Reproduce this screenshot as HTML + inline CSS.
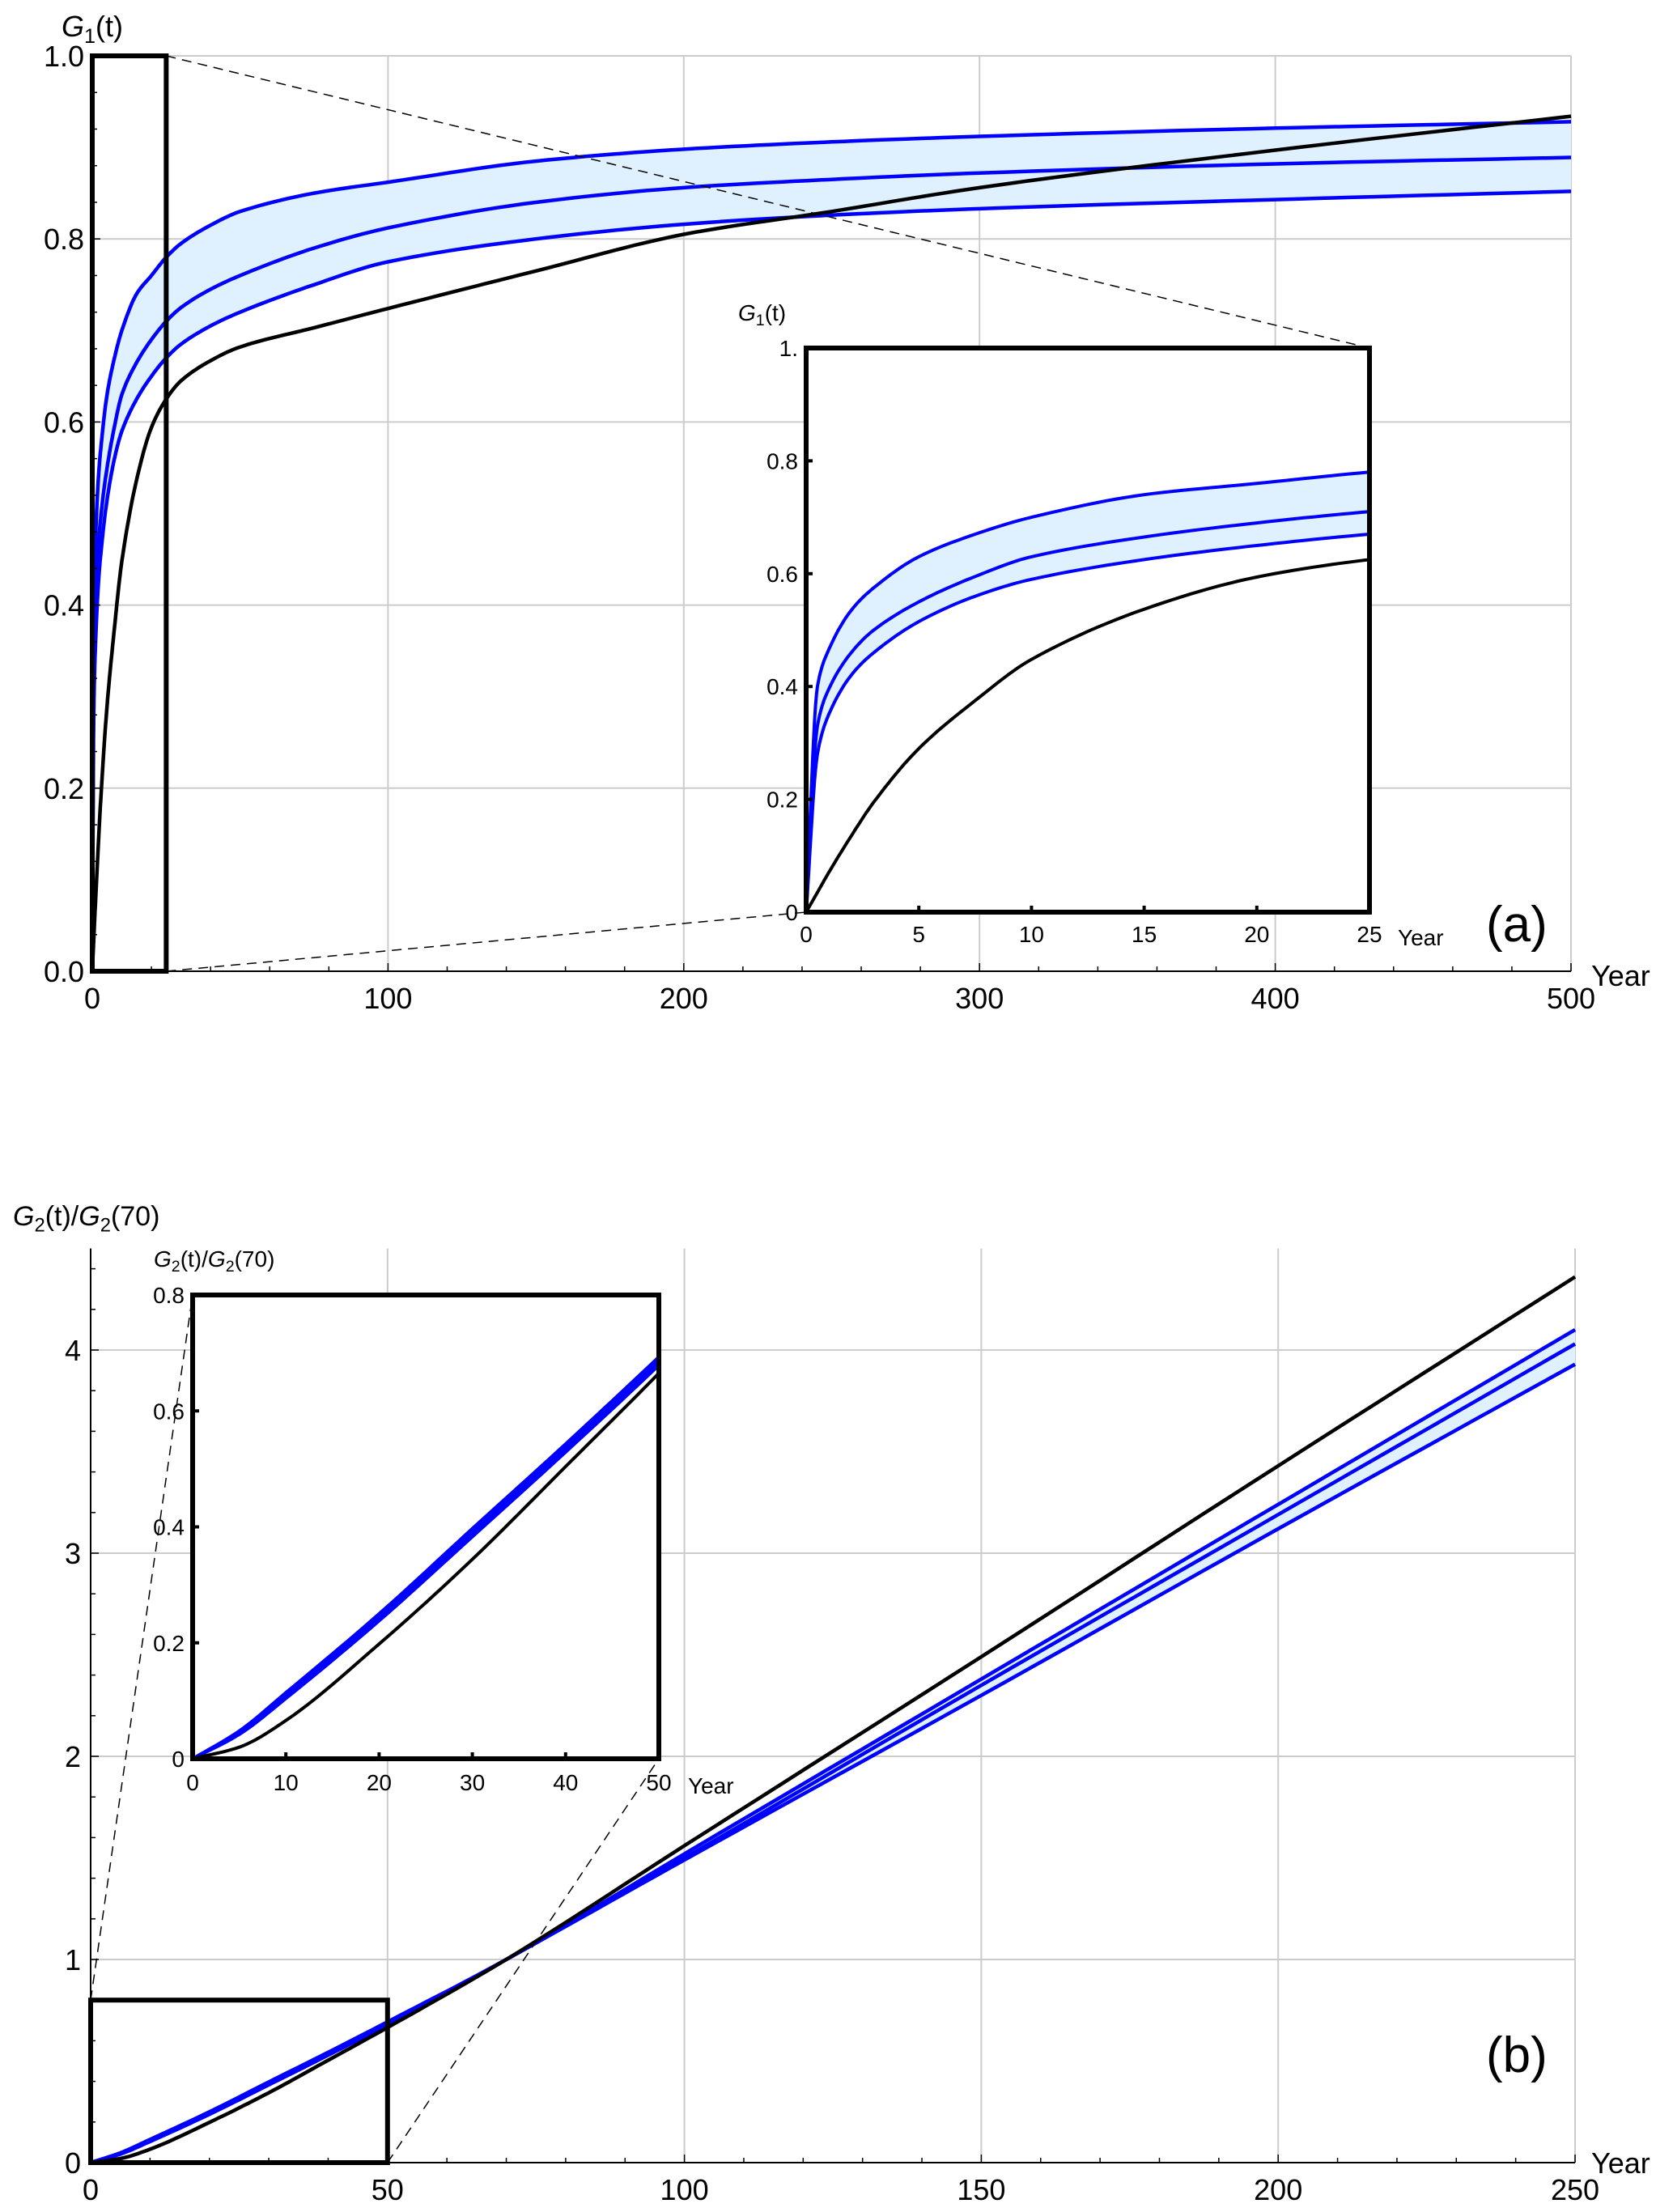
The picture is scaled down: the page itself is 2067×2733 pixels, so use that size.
<!DOCTYPE html>
<html><head><meta charset="utf-8"><style>
html,body{margin:0;padding:0;background:#fff;}
svg{display:block;font-family:"Liberation Sans",Arial,sans-serif;}
</style></head><body>
<svg id="chart" width="2067" height="2733" viewBox="0 0 2067 2733" xmlns="http://www.w3.org/2000/svg">
<defs>
<clipPath id="clipA"><rect x="996" y="430" width="696" height="697"/></clipPath>
<clipPath id="clipB"><rect x="238" y="1600" width="576" height="573"/></clipPath>
</defs>
<g id="root"></g>
</svg>
<script>
// ---- Panel (a) data ----
const tTop=[0,0.5,1,2,3,5,7.5,10,15,20,25,30,40,50,75,100,150,200,250,300,400,500];
const g1Upper=[0,.40,.465,.535,.575,.63,.67,.70,.74,.76,.78,.795,.815,.83,.85,.862,.885,.898,.906,.912,.921,.928];
const g1Mid=[0,.33,.395,.46,.50,.55,.595,.63,.665,.69,.71,.725,.745,.76,.79,.812,.84,.856,.865,.872,.882,.889];
const g1Lower=[0,.28,.35,.42,.46,.515,.56,.59,.625,.65,.67,.685,.705,.72,.75,.775,.80,.816,.826,.833,.843,.852];
const g1Black=[0,.035,.07,.135,.195,.29,.375,.448,.537,.594,.625,.645,.667,.682,.703,.724,.765,.805,.83,.856,.897,.934];
const aXTicks=[0,100,200,300,400,500];
const aYTicks=[0,0.2,0.4,0.6,0.8,1.0];
const aYLabels=["0.0","0.2","0.4","0.6","0.8","1.0"];
const aInXTicks=[0,5,10,15,20,25];
const aInYTicks=[0,0.2,0.4,0.6,0.8,1];
const aInYLabels=["0","0.2","0.4","0.6","0.8","1."];
// ---- Panel (b) data ----
const tBot=[0,5,10,20,30,40,50,70,100,150,200,250];
const g2Upper=[0,.048,.114,.25,.397,.543,.693,1.0,1.52,2.38,3.24,4.10];
const g2Mid=[0,.045,.109,.244,.39,.536,.686,1.0,1.50,2.35,3.19,4.03];
const g2Lower=[0,.042,.104,.238,.383,.529,.679,1.0,1.49,2.30,3.12,3.93];
const g2Black=[0,.02,.066,.198,.344,.504,.665,1.0,1.56,2.49,3.43,4.36];
const bXTicks=[0,50,100,150,200,250];
const bYTicks=[0,1,2,3,4];
const bInXTicks=[0,10,20,30,40,50];
const bInYTicks=[0,0.2,0.4,0.6,0.8];
const bInYLabels=["0","0.2","0.4","0.6","0.8"];

const NS="http://www.w3.org/2000/svg";
const root=document.getElementById('root');
function mk(tag,attrs,parent){const e=document.createElementNS(NS,tag);for(const k in attrs)e.setAttribute(k,attrs[k]);(parent||root).appendChild(e);return e;}
function lin(d0,d1,r0,r1){return v=>r0+(v-d0)*(r1-r0)/(d1-d0);}
function smooth(ts,vs){
  const n=ts.length,d=[],m=new Array(n);
  for(let i=0;i<n-1;i++)d.push((vs[i+1]-vs[i])/(ts[i+1]-ts[i]));
  m[0]=d[0];m[n-1]=d[n-2];
  for(let i=1;i<n-1;i++){m[i]=(d[i-1]*d[i]<=0)?0:2/(1/d[i-1]+1/d[i]);}
  const out=[];
  for(let i=0;i<n-1;i++){const h=ts[i+1]-ts[i];const N=12;for(let k=0;k<N;k++){const u=k/N,u2=u*u,u3=u2*u;
    const v=(2*u3-3*u2+1)*vs[i]+(u3-2*u2+u)*h*m[i]+(-2*u3+3*u2)*vs[i+1]+(u3-u2)*h*m[i+1];out.push([ts[i]+u*h,v]);}}
  out.push([ts[n-1],vs[n-1]]);return out;}
function pathOf(ts,vs,sx,sy){return smooth(ts,vs).map((p,i)=>(i?'L':'M')+sx(p[0]).toFixed(1)+','+sy(p[1]).toFixed(1)).join(' ');}
function bandOf(ts,up,lo,sx,sy){let d=pathOf(ts,up,sx,sy);const l=smooth(ts,lo);for(let i=l.length-1;i>=0;i--)d+=' L'+sx(l[i][0]).toFixed(1)+','+sy(l[i][1]).toFixed(1);return d+' Z';}
function txt(s,x,y,size,anchor,parent){const e=mk('text',{x:x,y:y,'font-size':size,'text-anchor':anchor||'start',fill:'#000'},parent);e.textContent=s;return e;}
function label(parent,x,y,size,parts){const e=mk('text',{x:x,y:y,'font-size':size,fill:'#000'},parent);
  parts.forEach(p=>{const s=document.createElementNS(NS,'tspan');if(p.i)s.setAttribute('font-style','italic');if(p.sub){s.setAttribute('font-size',size*0.7);s.setAttribute('dy',size*0.22);}if(p.up){s.setAttribute('dy',-size*0.22);}s.textContent=p.t;e.appendChild(s);});return e;}
function series(g,ts,up,mid,lo,blk,sx,sy,w){
  const band=mk('path',{d:bandOf(ts,up,lo,sx,sy),fill:'#dff0ff',stroke:'none'},g);
  
  
  const names=['upper-curve','middle-curve','lower-curve'];
  [up,mid,lo].forEach((v,i)=>{const p=mk('path',{d:pathOf(ts,v,sx,sy),fill:'none',stroke:'#0000ff','stroke-width':w,'stroke-linejoin':'round'},g);
    
    });
  const b=mk('path',{d:pathOf(ts,blk,sx,sy),fill:'none',stroke:'#000','stroke-width':w,'stroke-linejoin':'round'},g);
  
  
}

// ================= Panel (a) =================
const ga=mk('g',{});


const ax=lin(0,500,114,1941), ay=lin(0,1,1200,69);
aXTicks.forEach(v=>{if(v>0)mk('line',{x1:ax(v),x2:ax(v),y1:ay(0),y2:ay(1),stroke:'#cccccc','stroke-width':2},ga);});
aYTicks.forEach(v=>{if(v>0)mk('line',{x1:ax(0),x2:ax(500),y1:ay(v),y2:ay(v),stroke:'#cccccc','stroke-width':2},ga);});
series(ga,tTop,g1Upper,g1Mid,g1Lower,g1Black,ax,ay,4.5);
mk('line',{x1:ax(0),x2:ax(500),y1:ay(0),y2:ay(0),stroke:'#000','stroke-width':2},ga);
mk('line',{x1:ax(0),x2:ax(0),y1:ay(0),y2:ay(1),stroke:'#000','stroke-width':2},ga);
for(let v=0;v<=500;v+=20){const maj=v%100===0;mk('line',{x1:ax(v),x2:ax(v),y1:ay(0),y2:ay(0)-(maj?10:6),stroke:'#000','stroke-width':1.5},ga);}
for(let k=0;k<=25;k++){const v=k*0.04;const maj=k%5===0;mk('line',{x1:ax(0),x2:ax(0)+(maj?10:6),y1:ay(v),y2:ay(v),stroke:'#000','stroke-width':1.5},ga);}
aXTicks.forEach(v=>txt(String(v),ax(v),1246,36,'middle',ga));
aYTicks.forEach((v,i)=>txt(aYLabels[i],104,ay(v)+13,36,'end',ga));
label(ga,76,45,36,[{t:'G',i:1},{t:'1',sub:1},{t:'(t)',up:1}]);
txt('Year',1966,1218,36,'start',ga);
txt('(a)',1836,1163,62,'start',ga);
mk('rect',{x:ax(0),y:ay(1),width:ax(25)-ax(0),height:ay(0)-ay(1),fill:'none',stroke:'#000','stroke-width':6},ga);
mk('line',{x1:ax(25),y1:ay(1),x2:1692,y2:430,stroke:'#000','stroke-width':1.5,'stroke-dasharray':'12,8'},ga);
mk('line',{x1:ax(25),y1:ay(0),x2:996,y2:1127,stroke:'#000','stroke-width':1.5,'stroke-dasharray':'12,8'},ga);
const gai=mk('g',{},ga);


const ix=lin(0,25,996,1692), iy=lin(0,1,1127,430);
mk('rect',{x:996,y:430,width:696,height:697,fill:'#fff'},gai);
const gaic=mk('g',{'clip-path':'url(#clipA)'},gai);
series(gaic,tTop.slice(0,12),g1Upper.slice(0,12),g1Mid.slice(0,12),g1Lower.slice(0,12),g1Black.slice(0,12),ix,iy,4);
mk('rect',{x:996,y:430,width:696,height:697,fill:'none',stroke:'#000','stroke-width':6},gai);
aInXTicks.forEach(v=>{mk('line',{x1:ix(v),x2:ix(v),y1:1127,y2:1119,stroke:'#000','stroke-width':4},gai);txt(String(v),ix(v),1164,28,'middle',gai);});
aInYTicks.forEach((v,i)=>{mk('line',{x1:996,x2:1004,y1:iy(v),y2:iy(v),stroke:'#000','stroke-width':4},gai);txt(aInYLabels[i],986,iy(v)+10,28,'end',gai);});
txt('Year',1727,1168,28,'start',gai);
label(gai,912,396,28,[{t:'G',i:1},{t:'1',sub:1},{t:'(t)',up:1}]);

// ================= Panel (b) =================
const gb=mk('g',{});


const bx=lin(0,250,112,1946), by=lin(0,1,2672,2421);
const bTop=by(4.5);
bXTicks.forEach(v=>{if(v>0)mk('line',{x1:bx(v),x2:bx(v),y1:by(0),y2:bTop,stroke:'#cccccc','stroke-width':2},gb);});
bYTicks.forEach(v=>{if(v>0)mk('line',{x1:bx(0),x2:bx(250),y1:by(v),y2:by(v),stroke:'#cccccc','stroke-width':2},gb);});
series(gb,tBot,g2Upper,g2Mid,g2Lower,g2Black,bx,by,4.5);
mk('line',{x1:bx(0),x2:bx(250),y1:by(0),y2:by(0),stroke:'#000','stroke-width':2},gb);
mk('line',{x1:bx(0),x2:bx(0),y1:by(0),y2:bTop,stroke:'#000','stroke-width':2},gb);
for(let v=0;v<=250;v+=10){const maj=v%50===0;mk('line',{x1:bx(v),x2:bx(v),y1:by(0),y2:by(0)-(maj?10:6),stroke:'#000','stroke-width':1.5},gb);}
for(let k=0;k<=22;k++){const v=k*0.2;const maj=k%5===0;mk('line',{x1:bx(0),x2:bx(0)+(maj?10:6),y1:by(v),y2:by(v),stroke:'#000','stroke-width':1.5},gb);}
bXTicks.forEach(v=>txt(String(v),bx(v),2718,36,'middle',gb));
bYTicks.forEach(v=>txt(String(v),100,by(v)+13,36,'end',gb));
label(gb,16,1514,34,[{t:'G',i:1},{t:'2',sub:1},{t:'(t)/',up:1},{t:'G',i:1},{t:'2',sub:1},{t:'(70)',up:1}]);
txt('Year',1966,2685,36,'start',gb);
txt('(b)',1836,2560,62,'start',gb);
mk('rect',{x:bx(0),y:by(0.8),width:bx(50)-bx(0),height:by(0)-by(0.8),fill:'none',stroke:'#000','stroke-width':6},gb);
mk('line',{x1:bx(0),y1:by(0.8),x2:238,y2:1600,stroke:'#000','stroke-width':1.5,'stroke-dasharray':'12,8'},gb);
mk('line',{x1:bx(50),y1:by(0),x2:814,y2:2173,stroke:'#000','stroke-width':1.5,'stroke-dasharray':'12,8'},gb);
const gbi=mk('g',{},gb);


const jx=lin(0,50,238,814), jy=lin(0,0.8,2173,1600);
mk('rect',{x:238,y:1600,width:576,height:573,fill:'#fff'},gbi);
const gbic=mk('g',{'clip-path':'url(#clipB)'},gbi);
series(gbic,tBot.slice(0,8),g2Upper.slice(0,8),g2Mid.slice(0,8),g2Lower.slice(0,8),g2Black.slice(0,8),jx,jy,4);
mk('rect',{x:238,y:1600,width:576,height:573,fill:'none',stroke:'#000','stroke-width':6},gbi);
bInXTicks.forEach(v=>{mk('line',{x1:jx(v),x2:jx(v),y1:2173,y2:2165,stroke:'#000','stroke-width':4},gbi);txt(String(v),jx(v),2212,28,'middle',gbi);});
bInYTicks.forEach((v,i)=>{mk('line',{x1:238,x2:246,y1:jy(v),y2:jy(v),stroke:'#000','stroke-width':4},gbi);txt(bInYLabels[i],228,jy(v)+10,28,'end',gbi);});
txt('Year',850,2216,28,'start',gbi);
label(gbi,190,1565,28,[{t:'G',i:1},{t:'2',sub:1},{t:'(t)/',up:1},{t:'G',i:1},{t:'2',sub:1},{t:'(70)',up:1}]);
</script>
</body></html>
